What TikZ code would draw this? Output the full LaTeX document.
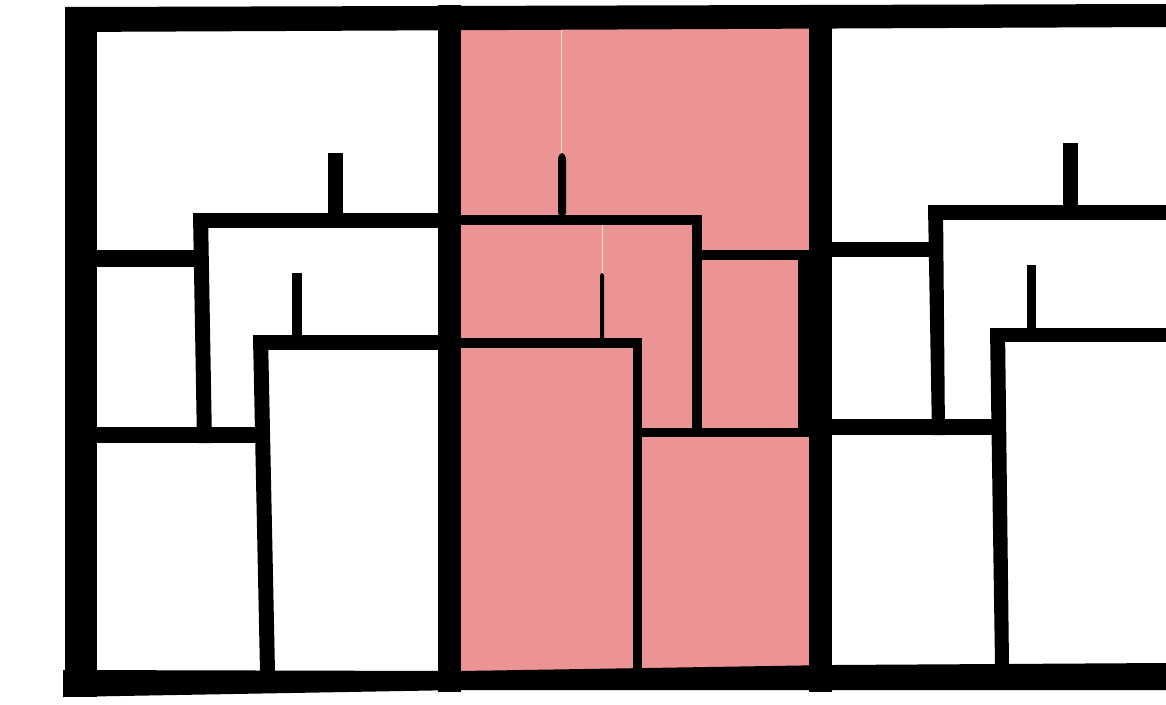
\documentclass[tikz,border=0pt]{standalone}
\definecolor{roompink}{RGB}{236,148,147}
\begin{document}
\begin{tikzpicture}[x=0.02cm,y=-0.02cm,
  wall/.style={fill=black},
  room/.style={fill=roompink},
  faint/.style={draw=white,line width=0.5pt,opacity=0.7}]
\fill[white] (0,0) rectangle (1166,704);
\useasboundingbox (0,0) rectangle (1166,704);
% pink unit
\fill[room] (461,20) rectangle (809,680);
\draw[faint] (561,27) -- (561,153);
\draw[faint] (602,225) -- (602,273);
% outer walls
\fill[wall] (65,7) -- (1166,4) -- (1166,27) -- (65,32) -- cycle;
\fill[wall] (65,7) rectangle (97,697);
\fill[wall] (63,670) -- (460,671) -- (832,665) -- (1166,663) -- (1166,690) -- (460,690) -- (63,697) -- cycle;
\fill[wall] (438,5) rectangle (461,692);
\fill[wall] (809,5) rectangle (832,692);
% left unit
\fill[wall] (97,250) rectangle (200,267);
\fill[wall] (193,213) -- (208,213) -- (212,443) -- (197,443) -- cycle;
\fill[wall] (193,213) rectangle (438,228);
\fill[wall] (328,153) rectangle (343,213);
\fill[wall] (292,273) rectangle (302,335);
\fill[wall] (253,335) rectangle (438,350);
\fill[wall] (253,335) -- (268,335) -- (275,672) -- (260,672) -- cycle;
\fill[wall] (97,427) rectangle (257,443);
% pink unit walls
\fill[wall] (438,215) rectangle (702,225);
\fill[wall, rounded corners=3] (558,153) rectangle (566,218);
\fill[wall] (692,215) rectangle (702,432);
\fill[wall] (700,250) rectangle (809,260);
\fill[wall] (798,250) rectangle (809,432);
\fill[wall, rounded corners=1.5] (600,273) rectangle (604,342);
\fill[wall] (438,338) rectangle (642,348);
\fill[wall] (633,338) rectangle (642,672);
\fill[wall] (640,428) rectangle (809,437);
% right unit
\fill[wall] (832,242) rectangle (935,257);
\fill[wall] (928,205) -- (943,205) -- (945,435) -- (932,435) -- cycle;
\fill[wall] (928,205) rectangle (1166,220);
\fill[wall] (1063,143) rectangle (1078,205);
\fill[wall] (1027,265) rectangle (1036,328);
\fill[wall] (990,328) rectangle (1166,342);
\fill[wall] (990,328) -- (1005,328) -- (1009,665) -- (995,665) -- cycle;
\fill[wall] (832,419) rectangle (995,435);
\end{tikzpicture}
\end{document}
